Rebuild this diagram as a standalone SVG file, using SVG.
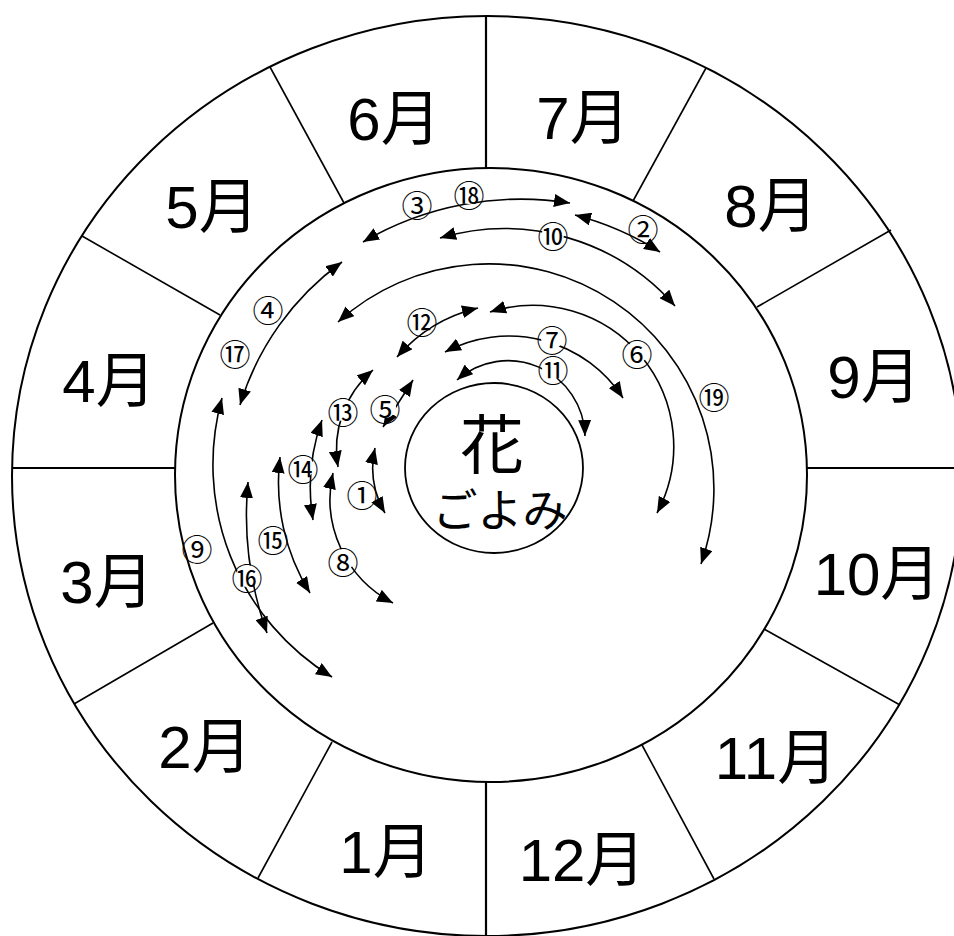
<svg xmlns="http://www.w3.org/2000/svg" width="954" height="936" viewBox="0 0 954 936">
<defs>
<style>
.ring{fill:none;stroke:#000;stroke-width:2}
.ax{stroke:#000;stroke-width:2.2}
.dg{stroke:#000;stroke-width:1.6}
.mon{font-family:"Liberation Sans","Noto Sans CJK JP",sans-serif;font-size:60px;text-anchor:middle;fill:#000}
.arr{fill:none;stroke:#000;stroke-width:1.6;marker-start:url(#ah);marker-end:url(#ah)}
.lb{font-family:"Noto Sans CJK JP",sans-serif;font-size:31px;text-anchor:middle;dominant-baseline:central;fill:#000}
.bg{fill:#fff;stroke:none}
.ctr{font-family:"Noto Sans CJK JP",sans-serif;text-anchor:middle;fill:#000}
</style>
<marker id="ah" viewBox="0 0 16 13" refX="16" refY="6.5" markerWidth="16" markerHeight="13" markerUnits="userSpaceOnUse" orient="auto-start-reverse">
<path d="M0,0 L16,6.5 L0,13 z" fill="#000"/>
</marker>
</defs>
<rect width="954" height="936" fill="#fff"/>
<g id="wheel">
<ellipse class="ring" cx="487" cy="476" rx="475" ry="460"/>
<ellipse class="ring" cx="491" cy="475" rx="316" ry="307"/>
<line class="ax" x1="486" y1="16" x2="486" y2="168"/>
<line class="ax" x1="486" y1="782" x2="486" y2="936"/>
<line class="ax" x1="12" y1="468" x2="175" y2="468"/>
<line class="ax" x1="807" y1="468" x2="960" y2="468"/>
<line class="dg" x1="270" y1="67" x2="344" y2="203"/>
<line class="dg" x1="82" y1="236" x2="220" y2="315"/>
<line class="dg" x1="74" y1="704" x2="213" y2="623"/>
<line class="dg" x1="258" y1="878" x2="332" y2="742"/>
<line class="dg" x1="714" y1="879" x2="642" y2="745"/>
<line class="dg" x1="900" y1="705" x2="764" y2="629"/>
<line class="dg" x1="891" y1="230" x2="757" y2="307"/>
<line class="dg" x1="706" y1="68" x2="633" y2="201"/>
</g>
<g id="m1"><text class="mon" x="386" y="873">1月</text></g>
<g id="m2"><text class="mon" x="205" y="768">2月</text></g>
<g id="m3"><text class="mon" x="107" y="603">3月</text></g>
<g id="m4"><text class="mon" x="109" y="402">4月</text></g>
<g id="m5"><text class="mon" x="212" y="228">5月</text></g>
<g id="m6"><text class="mon" x="394" y="140">6月</text></g>
<g id="m7"><text class="mon" x="583" y="139">7月</text></g>
<g id="m8"><text class="mon" x="771" y="227">8月</text></g>
<g id="m9"><text class="mon" x="874" y="398">9月</text></g>
<g id="m10"><text class="mon" x="877" y="595">10月</text></g>
<g id="m11"><text class="mon" x="776" y="779">11月</text></g>
<g id="m12"><text class="mon" x="582" y="881">12月</text></g>
<g id="center">
<ellipse class="ring" cx="494" cy="468" rx="89" ry="85" style="stroke-width:1.8"/>
<text class="ctr" x="492" y="468" font-size="64">花</text>
<text class="ctr" x="500" y="527" font-size="45">ごよみ</text>
</g>
<g id="connectors">
<path class="arr" d="M363,242 A313,313 0 0 1 570,203"/>
<path class="arr" d="M575,215 A300,300 0 0 1 660,252"/>
<path class="arr" d="M440,238 A227,227 0 0 1 675,306"/>
<path class="arr" d="M338,322 A225,225 0 0 1 701,564"/>
<path class="arr" d="M490,312 A141,141 0 0 1 657,513"/>
<path class="arr" d="M397,357 A155,155 0 0 1 478,308"/>
<path class="arr" d="M445,352 A136,136 0 0 1 623,398"/>
<path class="arr" d="M457,380 A77,77 0 0 1 585,436"/>
<path class="arr" d="M383,427 L413,380"/>
<path class="arr" d="M373,370 A104,104 0 0 0 338,467"/>
<path class="arr" d="M333,473 A117,117 0 0 0 393,603"/>
<path class="arr" d="M375,448 A90,90 0 0 0 385,513"/>
<path class="arr" d="M322,420 A200,200 0 0 0 313,520"/>
<path class="arr" d="M280,457 A210,210 0 0 0 310,593"/>
<path class="arr" d="M248,482 A350,350 0 0 0 267,633"/>
<path class="arr" d="M222,398 A249,249 0 0 0 332,677"/>
<path class="arr" d="M240,405 A275,275 0 0 1 342,262"/>
</g>
<g id="labels">
<g id="l3"><circle class="bg" cx="417" cy="203" r="11"/><text class="lb" x="417" y="203">③</text></g>
<g id="l18"><circle class="bg" cx="469" cy="193" r="11"/><text class="lb" x="469" y="193">⑱</text></g>
<g id="l2"><circle class="bg" cx="643" cy="227" r="11"/><text class="lb" x="643" y="227">②</text></g>
<g id="l10"><circle class="bg" cx="553" cy="234" r="11"/><text class="lb" x="553" y="234">⑩</text></g>
<g id="l12"><circle class="bg" cx="422" cy="320" r="11"/><text class="lb" x="422" y="320">⑫</text></g>
<g id="l7"><circle class="bg" cx="552" cy="338" r="11"/><text class="lb" x="552" y="338">⑦</text></g>
<g id="l6"><circle class="bg" cx="637" cy="352" r="11"/><text class="lb" x="637" y="352">⑥</text></g>
<g id="l11"><circle class="bg" cx="553" cy="368" r="11"/><text class="lb" x="553" y="368">⑪</text></g>
<g id="l19"><circle class="bg" cx="714" cy="395" r="11"/><text class="lb" x="714" y="395">⑲</text></g>
<g id="l4"><circle class="bg" cx="268" cy="308" r="11"/><text class="lb" x="268" y="308">④</text></g>
<g id="l17"><circle class="bg" cx="235" cy="352" r="11"/><text class="lb" x="235" y="352">⑰</text></g>
<g id="l5"><circle class="bg" cx="385" cy="407" r="11"/><text class="lb" x="385" y="407">⑤</text></g>
<g id="l13"><circle class="bg" cx="343" cy="410" r="11"/><text class="lb" x="343" y="410">⑬</text></g>
<g id="l14"><circle class="bg" cx="303" cy="467" r="11"/><text class="lb" x="303" y="467">⑭</text></g>
<g id="l1"><circle class="bg" cx="362" cy="493" r="11"/><text class="lb" x="362" y="493">①</text></g>
<g id="l15"><circle class="bg" cx="273" cy="538" r="11"/><text class="lb" x="273" y="538">⑮</text></g>
<g id="l8"><circle class="bg" cx="343" cy="560" r="11"/><text class="lb" x="343" y="560">⑧</text></g>
<g id="l9"><circle class="bg" cx="197" cy="547" r="11"/><text class="lb" x="197" y="547">⑨</text></g>
<g id="l16"><circle class="bg" cx="247" cy="576" r="11"/><text class="lb" x="247" y="576">⑯</text></g>
</g>
</svg>
